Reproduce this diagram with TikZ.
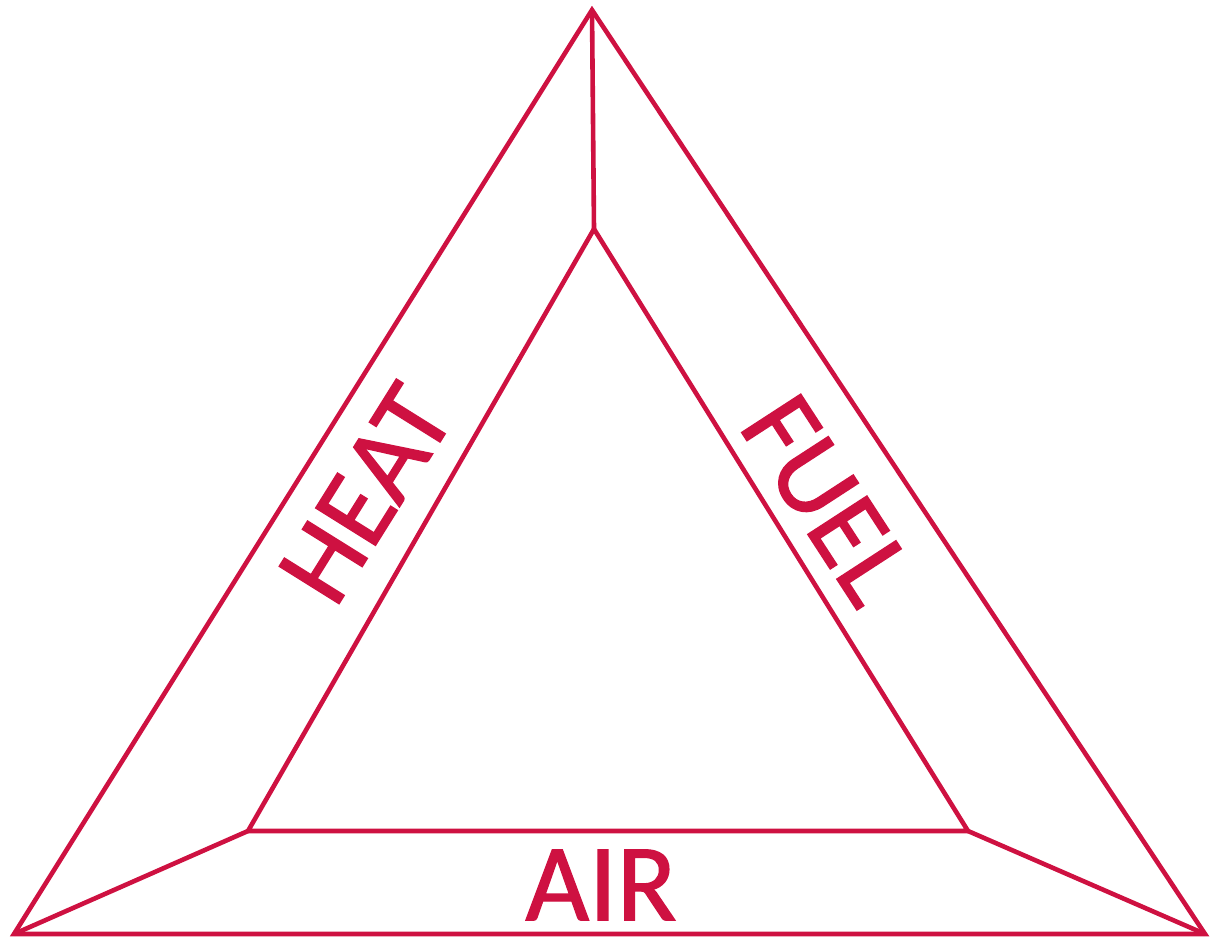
\documentclass[tikz,border=0pt]{standalone}
\usepackage{fontspec}
\newfontfamily\signfont[FakeBold=1.2]{Carlito}
\definecolor{firered}{RGB}{206,17,65}

\begin{document}
\begin{tikzpicture}[x=1pt,y=-1pt,
    edge/.style={draw=firered,line width=4.6pt,line join=miter},
    sidelabel/.style={text=firered,inner sep=0pt,font=\signfont\fontsize{110}{110}\selectfont}]
  \useasboundingbox (0,0) rectangle (1213,939);

  % Outer triangle corners
  \coordinate (OL) at (14,934);
  \coordinate (OT) at (592,10);
  \coordinate (OR) at (1205,934);
  % Inner triangle corners
  \coordinate (IL) at (248,831);
  \coordinate (IT) at (594,229);
  \coordinate (IR) at (968,831);

  % --- Triangles ---
  \draw[edge] (OL) -- (OT) -- (OR) -- cycle;
  \draw[edge] (IL) -- (IT) -- (IR) -- cycle;

  % --- Corner links ---
  \draw[edge] (OT) -- (IT);
  \draw[edge] (OL) -- (IL);
  \draw[edge] (OR) -- (IR);

  % --- Side labels ---
  \node[sidelabel,rotate=58] (heat) at (366,494) {HEAT};
  \node[sidelabel,rotate=-57] (fuel) at (827,500) {FUEL};
  \node[sidelabel] (air) at (601,885) {AIR};

\end{tikzpicture}
\end{document}
